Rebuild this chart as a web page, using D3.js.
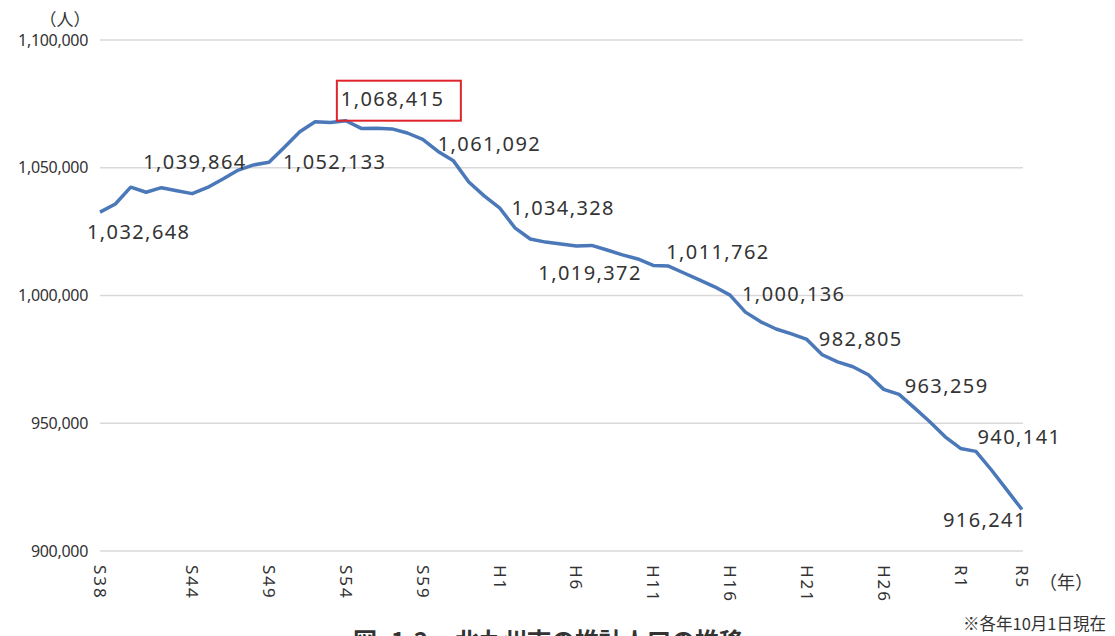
<!DOCTYPE html>
<html>
<head>
<meta charset="utf-8">
<script src="https://cdn.jsdelivr.net/npm/d3@7"></script>
<style>
  body { margin: 0; background: #fff; }
  svg { display: block; }
  text { font-family: "Noto Sans", "Noto Sans CJK JP", sans-serif; fill: #333; }
  .cjk { font-family: "Noto Sans CJK JP", sans-serif; }
</style>
</head>
<body>
<svg id="chart" width="1115" height="636"></svg>
<script>
// 北九州市の推計人口（各年10月1日）
var years = [1963,1964,1965,1966,1967,1968,1969,1970,1971,1972,1973,1974,1975,1976,1977,1978,1979,1980,
  1981,1982,1983,1984,1985,1986,1987,1988,1989,1990,1991,1992,1993,1994,1995,1996,1997,1998,1999,2000,
  2001,2002,2003,2004,2005,2006,2007,2008,2009,2010,2011,2012,2013,2014,2015,2016,2017,2018,2019,2020,
  2021,2022,2023];
var population = [1032648,1035800,1042400,1040400,1042200,1041000,1039864,1042300,1045600,1049100,1051100,1052133,
  1058000,1064100,1068000,1067700,1068415,1065400,1065500,1065200,1063600,1061092,1056400,1052700,1044400,1039000,
  1034328,1026500,1022100,1020900,1020200,1019372,1019600,1017800,1015900,1014300,1011762,1011500,1008800,1006100,
  1003400,1000136,993500,989700,986900,985000,982805,976800,974000,972100,969000,963259,961300,956000,950600,
  944700,940141,939000,931800,924000,916241];

var tickYears  = [1963,1969,1974,1979,1984,1989,1994,1999,2004,2009,2014,2019,2023];
var tickLabels = ["S38","S44","S49","S54","S59","H1","H6","H11","H16","H21","H26","R1","R5"];
var yTicks = [900000,950000,1000000,1050000,1100000];

// labelled years (values are read from the population array)
var labelYears = [1963,1969,1974,1979,1984,1989,1994,1999,2004,2009,2014,2019,2023];
var peakYear = 1979;

var svg = d3.select("#chart");

var x = d3.scaleLinear().domain([1963, 2023]).range([100, 1022]);
var y = d3.scaleLinear().domain([900000, 1100000]).range([551, 40]);

var fmt = d3.format(",");

// gridlines
svg.append("g")
  .selectAll("line")
  .data(yTicks)
  .enter().append("line")
  .attr("x1", 100)
  .attr("x2", 1023)
  .attr("y1", function(d) { return y(d); })
  .attr("y2", function(d) { return y(d); })
  .attr("stroke", "#d9d9d9")
  .attr("stroke-width", 1.5);

// y axis labels
var yAxis = d3.axisLeft(y).tickValues(yTicks).tickSize(0).tickPadding(0).tickFormat(fmt);
var gy = svg.append("g").attr("transform", "translate(88,0)").call(yAxis);
gy.select(".domain").remove();
gy.selectAll("text")
  .style("font-family", "'Noto Sans', sans-serif")
  .style("font-size", "16px")
  .style("letter-spacing", "-0.3px")
  .attr("fill", "#444");

svg.append("text")
  .attr("class", "cjk")
  .attr("x", 65)
  .attr("y", 26)
  .attr("text-anchor", "middle")
  .style("font-size", "17px")
  .text("（人）");

// x axis labels, rotated
var xAxis = d3.axisBottom(x).tickValues(tickYears).tickSize(0).tickPadding(0)
  .tickFormat(function(d, i) { return tickLabels[i]; });
var gx = svg.append("g").attr("transform", "translate(0,565)").call(xAxis);
gx.select(".domain").remove();
gx.selectAll("text")
  .attr("y", 0)
  .attr("dy", null)
  .attr("transform", "rotate(90)")
  .attr("text-anchor", "start")
  .attr("dominant-baseline", "central")
  .style("font-family", "'Noto Sans', sans-serif")
  .style("font-size", "17px")
  .style("letter-spacing", "2px")
  .attr("fill", "#333");

svg.append("text")
  .attr("class", "cjk")
  .attr("x", 1039)
  .attr("y", 589)
  .style("font-size", "18px")
  .text("（年）");

// population line
var line = d3.line()
  .x(function(d, i) { return x(years[i]); })
  .y(function(d) { return y(d); });

svg.append("path")
  .datum(population)
  .attr("d", line)
  .attr("fill", "none")
  .attr("stroke", "#4a78b8")
  .attr("stroke-width", 3.5)
  .attr("stroke-linejoin", "round");

// label offsets from the point (left edge, baseline)
var labelOffset = {
  1963: [-13, 27], 1969: [-49, -25], 1974: [14, 7], 1979: [-5, -15], 1984: [15, 12],
  1989: [12, 7], 1994: [-38, 34], 1999: [13, -6], 2004: [12, 6], 2009: [12, 7],
  2014: [21, 4], 2019: [17, -4], 2023: [-79, 17]
};

svg.append("g")
  .selectAll("text")
  .data(labelYears)
  .enter().append("text")
  .attr("x", function(d) { return x(d) + labelOffset[d][0]; })
  .attr("y", function(d) { return y(population[years.indexOf(d)]) + labelOffset[d][1]; })
  .style("font-size", "20px")
  .style("letter-spacing", "1.4px")
  .text(function(d) { return fmt(population[years.indexOf(d)]); });

// red box round the peak label
var px = x(peakYear), py = y(population[years.indexOf(peakYear)]);
svg.append("rect")
  .attr("x", px - 9)
  .attr("y", py - 40)
  .attr("width", 124)
  .attr("height", 40)
  .attr("fill", "none")
  .attr("stroke", "#e0242c")
  .attr("stroke-width", 2);

// note and caption
svg.append("text")
  .attr("class", "cjk")
  .attr("x", 963)
  .attr("y", 630)
  .style("font-size", "16.5px")
  .text("※各年10月1日現在");

var cap = svg.append("text")
  .attr("class", "cjk")
  .attr("y", 650)
  .style("font-size", "24px")
  .style("font-weight", "bold")
  .attr("fill", "#111");
cap.append("tspan").attr("x", 353).text("図");
cap.append("tspan").attr("x", 391).text("1-2");
cap.append("tspan").attr("x", 455).text("北九州市の推計人口の推移");
</script>
</body>
</html>
